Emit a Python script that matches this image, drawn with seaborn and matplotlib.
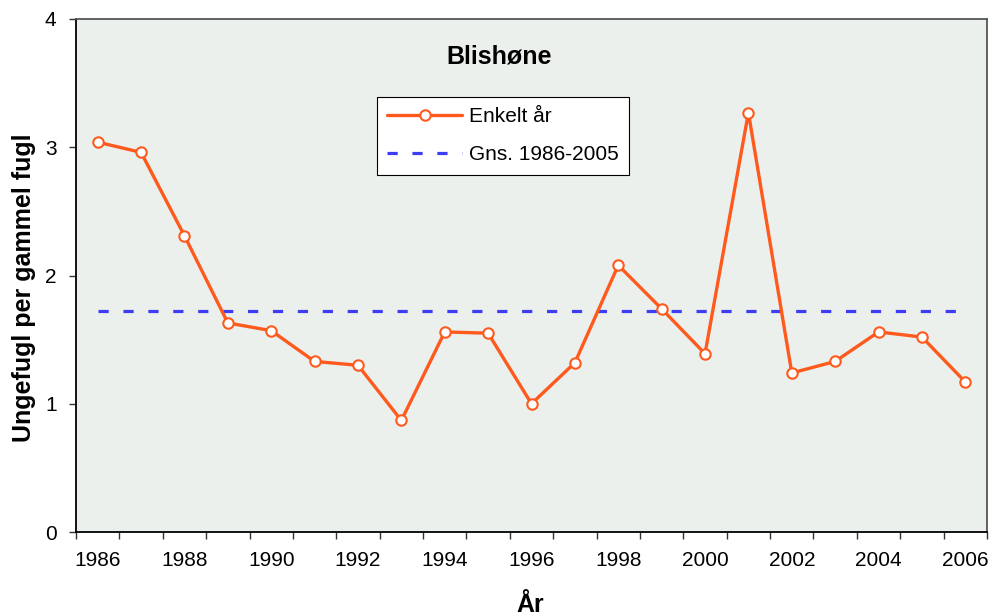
import matplotlib
matplotlib.use("Agg")
import matplotlib.pyplot as plt
import seaborn as sns
import pandas as pd
import numpy as np
from matplotlib.ticker import FixedLocator

years = list(range(1986, 2007))
values = [3.04, 2.96, 2.31, 1.63, 1.57, 1.33, 1.30, 0.87, 1.56, 1.55, 1.00,
          1.32, 2.08, 1.74, 1.39, 3.27, 1.24, 1.33, 1.56, 1.52, 1.17]
mean_values = [1.72] * len(years)
tick_labels = [str(y) for y in years[::2]]

sns.set_theme(style="white")
plt.rcParams['font.family'] = ['Liberation Sans', 'DejaVu Sans']
plt.rcParams['text.color'] = 'black'
plt.rcParams['axes.labelcolor'] = 'black'

df = pd.DataFrame({"idx": np.arange(len(years)), "year": years,
                   "value": values, "mean": mean_values})

W, H = 991, 616
fig = plt.figure(figsize=(W/100, H/100), dpi=100)
ax = fig.add_axes([76/W, 1 - 532/H, (987-76)/W, (532-19)/H])
ax.set_facecolor("#ECF0EC")

orange = "#FF5A1E"
blue = "#3D3DF5"

sns.lineplot(data=df, x="idx", y="mean", ax=ax, color=blue, linewidth=2.3,
             dashes=False, label="Gns. 1986-2005")
ax.lines[-1].set_dashes((3.2, 4.6))
sns.lineplot(data=df, x="idx", y="value", ax=ax, color=orange, linewidth=2.4,
             marker="o", markersize=7.5, markerfacecolor="white",
             markeredgecolor=orange, markeredgewidth=1.5, label="Enkelt år")

ax.set_xlim(-0.5, len(years) - 0.5)
ax.set_ylim(0, 4)
ax.set_yticks([0, 1, 2, 3, 4])
ax.set_yticklabels(["0", "1", "2", "3", "4"])
ax.xaxis.set_major_locator(FixedLocator(list(range(0, len(years), 2))))
ax.set_xticklabels(tick_labels)
ax.xaxis.set_minor_locator(FixedLocator(list(np.arange(-0.5, len(years), 1.0))))
ax.tick_params(axis="x", which="major", length=0, pad=14, labelsize=15, colors="black")
ax.tick_params(axis="x", which="minor", length=5, width=1, color="#333333", direction="out", bottom=True)
ax.tick_params(axis="y", length=5, width=1, color="#333333", direction="out", pad=9,
               labelsize=15, colors="black", left=True)

for s in ["left", "bottom"]:
    ax.spines[s].set_color("black")
    ax.spines[s].set_linewidth(1.3)
for s in ["top", "right"]:
    ax.spines[s].set_color("#555555")
    ax.spines[s].set_linewidth(1.3)
    ax.spines[s].set_visible(True)

ax.set_xlabel("År", fontsize=18, fontweight="bold", color="black")
ax.xaxis.set_label_coords((530-76)/911, -(612-532)/513)
ax.xaxis.label.set_va("baseline")
ax.set_ylabel("Ungefugl per gammel fugl", fontsize=18, fontweight="bold", color="black")
ax.yaxis.set_label_coords(-(76-24)/911, 1 - (288-19)/513)
ax.yaxis.label.set_va("center")
ax.text((499-76)/911, 1 - (57-19)/513, "Blishøne", transform=ax.transAxes,
        ha="center", va="center", fontsize=18, fontweight="bold", color="black")

handles, labels = ax.get_legend_handles_labels()
order = [1, 0]
leg = ax.legend([handles[i] for i in order], [labels[i] for i in order],
                loc="upper left", bbox_to_anchor=((377-76)/911, 1 - (97-19)/513),
                frameon=True, fancybox=False, framealpha=1, edgecolor="black",
                fontsize=15, handlelength=3.6, handletextpad=0.3,
                borderpad=0.5, labelspacing=0.9, borderaxespad=0)
leg.get_frame().set_linewidth(0.8)
for t in leg.get_texts():
    t.set_color("black")

fig.savefig("out.png", dpi=100)
